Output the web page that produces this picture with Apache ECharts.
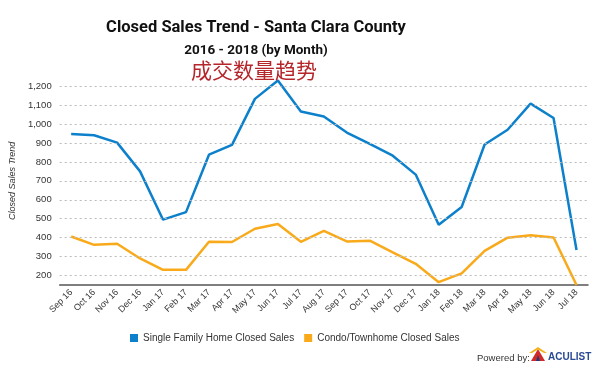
<!DOCTYPE html>
<html><head><meta charset="utf-8">
<script src="https://cdn.jsdelivr.net/npm/echarts@6/dist/echarts.min.js"></script>
<style>html,body{margin:0;padding:0;background:#fff}#c{width:600px;height:373px}</style>
</head><body><div id="c"></div>
<script>
const months = ['Sep 16','Oct 16','Nov 16','Dec 16','Jan 17','Feb 17','Mar 17','Apr 17','May 17','Jun 17','Jul 17','Aug 17','Sep 17','Oct 17','Nov 17','Dec 17','Jan 18','Feb 18','Mar 18','Apr 18','May 18','Jun 18','Jul 18'];
const singleFamily = [947,941,902,750,495,535,838,890,1133,1230,1066,1040,955,895,833,733,468,562,892,970,1108,1032,335];
const condo = [406,362,368,290,230,230,378,377,447,472,378,436,380,384,322,262,165,211,330,400,413,401,150];
const yTicks = [200,300,400,500,600,700,800,900,1000,1100,1200];

const chart = echarts.init(document.getElementById('c'));
chart.setOption({
  animation: false,
  textStyle: {fontFamily: 'Liberation Sans, Arial, sans-serif'},
  title: [
    {text: 'Closed Sales Trend - Santa Clara County', left: 251, top: 14, textAlign: 'center',
     textStyle: {fontSize: 16.5, fontWeight: 'bold', color: '#111', fontFamily: 'Roboto'}},
    {text: '2016 - 2018 (by Month)', left: 251, top: 39, textAlign: 'center',
     textStyle: {fontSize: 13.5, fontWeight: 'bold', color: '#111', fontFamily: 'Roboto'}},
    {text: '成交数量趋势', left: 249, top: 55, textAlign: 'center',
     textStyle: {fontSize: 21, fontWeight: 'normal', color: '#b5262b', fontFamily: 'Noto Sans CJK SC'}}
  ],
  grid: {left: 58, right: 12, top: 76.7, bottom: 88},
  legend: {
    top: 328, left: 125, itemWidth: 8, itemHeight: 8, itemGap: 10,
    icon: 'rect',
    textStyle: {fontSize: 10, color: '#333'},
    data: ['Single Family Home Closed Sales', 'Condo/Townhome Closed Sales']
  },
  xAxis: {
    type: 'category', data: months, boundaryGap: true,
    axisLine: {lineStyle: {color: '#555', width: 1.5}},
    axisTick: {show: false},
    axisLabel: {rotate: 45, fontSize: 9, color: '#333', interval: 0, margin: 6}
  },
  yAxis: {
    type: 'value', min: 150, max: 1250, interval: 50,
    name: 'Closed Sales Trend', nameLocation: 'middle', nameGap: 35,
    nameTextStyle: {fontStyle: 'italic', fontSize: 9, color: '#333'},
    axisLine: {show: false}, axisTick: {show: false},
    axisLabel: {fontSize: 9.5, color: '#333', margin: 8,
      formatter: v => yTicks.includes(v) ? v.toLocaleString('en-US') : ''},
    splitLine: {show: false}
  },
  series: [
    {name: 'grid', type: 'line', data: [], z: 1, silent: true,
     markLine: {silent: true, symbol: 'none', label: {show: false},
       lineStyle: {color: '#bbb', type: [2, 3], width: 1},
       data: yTicks.map(v => ({yAxis: v}))}},
    {name: 'Single Family Home Closed Sales', type: 'line', data: singleFamily, symbol: 'none', z: 3,
     lineStyle: {width: 2.5, color: '#0d80cc'}, itemStyle: {color: '#0d80cc'}},
    {name: 'Condo/Townhome Closed Sales', type: 'line', data: condo, symbol: 'none', z: 3,
     lineStyle: {width: 2.5, color: '#f9aa1b'}, itemStyle: {color: '#f9aa1b'}}
  ],
  graphic: [
    {type: 'text', left: 477, top: 353, style: {text: 'Powered by:', fontSize: 9.5, fill: '#333', fontFamily: 'Liberation Sans, Arial'}},
    {type: 'polygon', shape: {points: [[531,361],[538,349],[545,361]]}, style: {fill: '#d02a2a'}},
    {type: 'polygon', shape: {points: [[529,353],[538,347],[547,353],[544,353],[538,349.5],[532,353]]}, style: {fill: '#f3b21b'}},
    {type: 'polygon', shape: {points: [[536,361],[538,355],[540,361]]}, style: {fill: '#1e3a7a'}},
    {type: 'text', left: 548, top: 352, style: {text: 'ACULIST', fontSize: 10, fontWeight: 'bold', fill: '#2a4a94', fontFamily: 'Liberation Sans, Arial'}}
  ]
});
</script></body></html>
